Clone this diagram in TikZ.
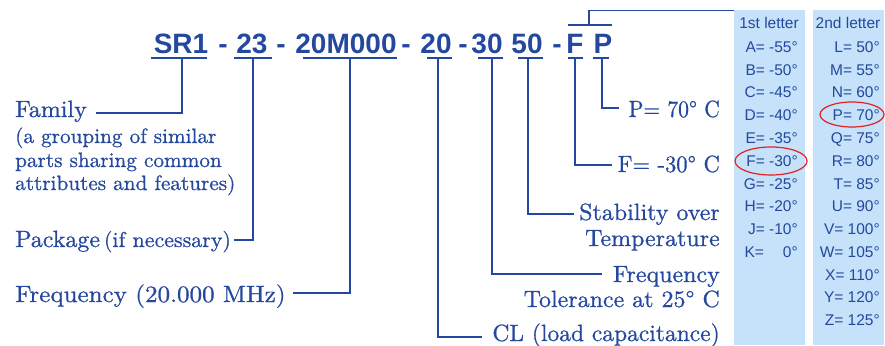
\documentclass[tikz,border=0pt]{standalone}
\usepackage{fontspec}
\setmainfont{lmroman10-regular.otf}[FakeStretch=1.02, FakeBold=0.8]
\newfontfamily\codefont{Liberation Sans}
\newfontfamily\tblfont{Liberation Sans}
\definecolor{ink}{RGB}{36,72,158}
\definecolor{panel}{RGB}{197,226,250}
\definecolor{ring}{RGB}{228,32,32}
\tikzset{
  code/.style={inner sep=0pt, anchor=base, text=ink, font={\codefont\bfseries\fontsize{28}{30}\selectfont}},
  lbl/.style={inner sep=0pt, text=ink, font={\fontsize{23.5}{26}\selectfont}},
  sublbl/.style={inner sep=0pt, text=ink, font={\fontsize{20.8}{24}\selectfont}},
  tbl/.style={inner sep=0pt, anchor=base east, text=ink, font={\tblfont\fontsize{15.5}{18}\selectfont}},
  tblhead/.style={inner sep=0pt, anchor=base, text=ink, font={\tblfont\fontsize{15.5}{18}\selectfont}},
  conn/.style={draw=ink, line width=1.3pt},
  uline/.style={draw=ink, line width=1.6pt},
  redring/.style={draw=ring, line width=1.2pt}
}
\begin{document}
\begin{tikzpicture}[x=1pt,y=-1pt]
\useasboundingbox (0,0) rectangle (885,345);
% panels
\fill[panel] (734,10) rectangle (805,345);
\fill[panel] (813,10) rectangle (884,345);
% code
\node[code] (c1) at (181,53) {SR1};
\node[code] (d1) at (223,53) {-};
\node[code] (c2) at (252,53) {23};
\node[code] (d2) at (281,53) {-};
\node[code] (c3) at (346,53) {20M000};
\node[code] (d3) at (406,53) {-};
\node[code] (c4) at (436,53) {20};
\node[code] (d4) at (463,53) {-};
\node[code] (c5) at (487,53) {30};
\node[code] (c6) at (527,53) {50};
\node[code] (d5) at (557,53) {-};
\node[code] (c7) at (575,53) {F};
\node[code] (c8) at (603,53) {P};
% underlines
\draw[uline] (151,58) -- (207,58);
\draw[uline] (234,58) -- (272,58);
\draw[uline] (303,58) -- (397,58);
\draw[uline] (427,58) -- (452,58);
\draw[uline] (478,58) -- (503,58);
\draw[uline] (518,58) -- (543,58);
\draw[uline] (568,58) -- (583,58);
\draw[uline] (593,58) -- (609,58);
\draw[uline] (568,25) -- (612,25);
% connector anchor points
\coordinate (u1) at (182,58);
\coordinate (u2) at (253,58);
\coordinate (u3) at (350,58);
\coordinate (u4) at (438,58);
\coordinate (u5) at (492,58);
\coordinate (u6) at (528,58);
\coordinate (u7) at (575,58);
\coordinate (u8) at (602,58);
\coordinate (ufp) at (589,25);
\coordinate (tabL) at (734,10.5);
\coordinate (e1) at (96,113);
\coordinate (e2) at (234,240);
\coordinate (e3) at (293,293);
\coordinate (e4) at (482,337);
\coordinate (e5) at (602,274);
\coordinate (e6) at (574,214);
\coordinate (e7) at (612,165);
\coordinate (e8) at (619,108);
\draw[conn] (u1) |- (e1);
\draw[conn] (u2) |- (e2);
\draw[conn] (u3) |- (e3);
\draw[conn] (u4) |- (e4);
\draw[conn] (u5) |- (e5);
\draw[conn] (u6) |- (e6);
\draw[conn] (u7) |- (e7);
\draw[conn] (u8) |- (e8);
\draw[conn] (ufp) |- (tabL);
% left labels
\node[lbl, anchor=base west] (fam) at (15,117) {Family};
\node[sublbl, anchor=base west] (fam2) at (15,143) {(a grouping of similar};
\node[sublbl, anchor=base west] (fam3) at (15,167) {parts sharing common};
\node[sublbl, anchor=base west] (fam4) at (15,190) {attributes and features)};
\node[lbl, anchor=base west] (pkg) at (15,247) {Package\,{\fontsize{21.5}{24}\selectfont(if necessary)}};
\node[lbl, anchor=base west, xscale=1.045] (freq) at (15,302) {Frequency (20.000 MHz)};
% right labels
\node[lbl, anchor=base east, xscale=0.9] (pl) at (720,117) {P= 70° C};
\node[lbl, anchor=base east, xscale=0.94] (fl) at (720,172) {F= -30° C};
\node[lbl, anchor=base east] (st1) at (720,220) {Stability over};
\node[lbl, anchor=base east] (st2) at (720,246) {Temperature};
\node[lbl, anchor=base east] (ft1) at (720,282) {Frequency};
\node[lbl, anchor=base east] (ft2) at (720,307) {Tolerance at 25° C};
\node[lbl, anchor=base east, xscale=0.98] (cl) at (720,341) {CL (load capacitance)};
% table column 1
\node[tblhead] (h1) at (769,29) {1st letter};
\node[tbl] (a1) at (798,52.3) {A= -55°};
\node[tbl] (a2) at (798,75.1) {B= -50°};
\node[tbl] (a3) at (798,97.9) {C= -45°};
\node[tbl] (a4) at (798,120.6) {D= -40°};
\node[tbl] (a5) at (798,143.4) {E= -35°};
\node[tbl] (a6) at (798,166.2) {F= -30°};
\node[tbl] (a7) at (798,189.0) {G= -25°};
\node[tbl] (a8) at (798,211.8) {H= -20°};
\node[tbl] (a9) at (798,234.5) {J= -10°};
\node[tbl] (a10) at (798,257.3) {K=\hspace{19pt}0°};
% table column 2
\node[tblhead] (h2) at (848,29) {2nd letter};
\node[tbl] (b1) at (880,52.3) {L= 50°};
\node[tbl] (b2) at (880,75.1) {M= 55°};
\node[tbl] (b3) at (880,97.9) {N= 60°};
\node[tbl] (b4) at (880,120.6) {P= 70°};
\node[tbl] (b5) at (880,143.4) {Q= 75°};
\node[tbl] (b6) at (880,166.2) {R= 80°};
\node[tbl] (b7) at (880,189.0) {T= 85°};
\node[tbl] (b8) at (880,211.8) {U= 90°};
\node[tbl] (b9) at (880,234.5) {V= 100°};
\node[tbl] (b10) at (880,257.3) {W= 105°};
\node[tbl] (b11) at (880,280.1) {X= 110°};
\node[tbl] (b12) at (880,302.9) {Y= 120°};
\node[tbl] (b13) at (880,325.7) {Z= 125°};
% red rings
\draw[redring] (771,161) ellipse [x radius=36pt, y radius=14pt];
\draw[redring] (852,114.5) ellipse [x radius=32pt, y radius=12.5pt];
\end{tikzpicture}
\end{document}
